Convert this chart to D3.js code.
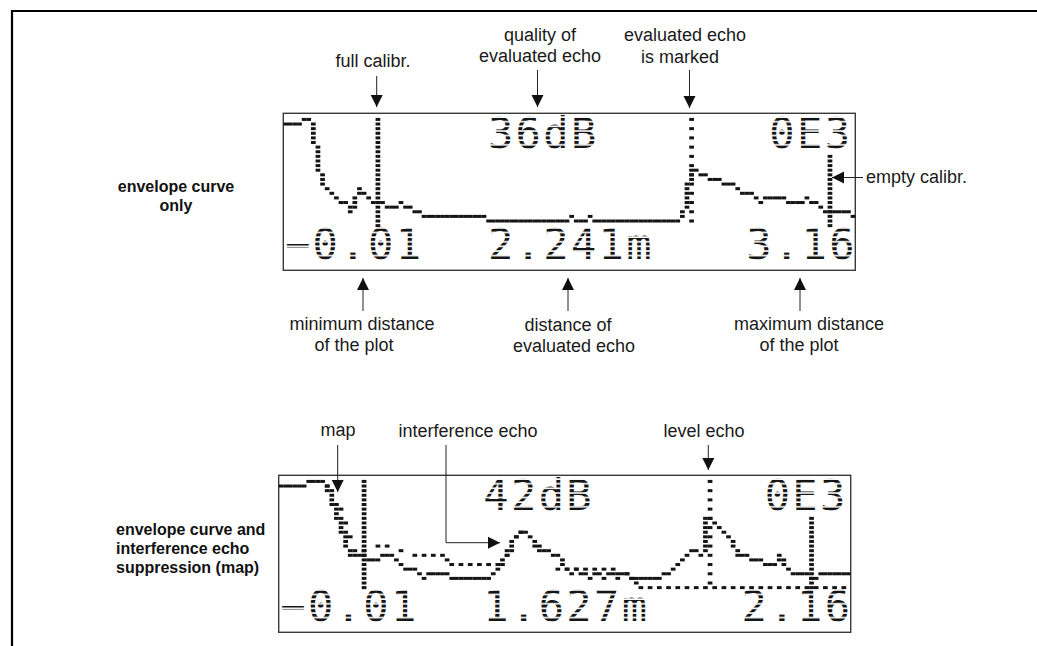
<!DOCTYPE html>
<html>
<head>
<meta charset="utf-8">
<script src="https://cdn.jsdelivr.net/npm/d3@7/dist/d3.min.js"></script>
<style>
  html, body { margin: 0; padding: 0; background: #fff; }
  svg { display: block; }
  .note { font-family: "Liberation Sans", Arial, sans-serif; font-size: 18px; fill: #1a1a1a; }
  .side { font-family: "Liberation Sans", Arial, sans-serif; font-size: 16px; font-weight: bold; fill: #111; }
  .lcd  { font-family: "DejaVu Sans Mono", monospace; font-size: 42px; letter-spacing: 2.4px; }
</style>
</head>
<body>
<div id="chart"></div>
<script>
(function() {

  let width  = 1037,
      height = 646;

  // LCD dot grid
  const COLS = 124, ROWS = 34;

  // envelope curve only: row of the dot in every column (0 = top row)
  const envelopeTop = [
    2, 2, 2, 2, 1, 1, 6, 12, 15, 16, 17, 18, 19, 19, 21, 18, 16, 17, 18, 19,
    19, 19, 20, 20, 20, 19, 20, 20, 21, 21, 22, 22, 22, 22, 22, 22, 22, 22, 22, 22,
    22, 22, 22, 22, 23, 23, 23, 23, 23, 23, 23, 23, 23, 23, 23, 23, 23, 23, 23, 23,
    23, 23, 22, 23, 23, 23, 22, 23, 23, 23, 23, 23, 23, 23, 23, 23, 23, 23, 23, 23,
    23, 23, 23, 23, 23, 23, 21, 15, 12, 12, 13, 13, 14, 14, 14, 15, 15, 15, 16, 17,
    17, 17, 18, 19, 18, 18, 18, 18, 18, 19, 19, 19, 19, 18, 19, 19, 20, 21, 21, 21,
    21, 21, 21, 22
  ];

  // envelope curve and interference echo suppression
  const envelopeBottom = [
    2, 2, 2, 2, 2, 2, 1, 1, 1, 1, 3, 6, 9, 12, 15, 17, 17, 17, 17, 18,
    18, 18, 17, 17, 17, 18, 19, 20, 20, 20, 21, 22, 21, 21, 21, 21, 21, 22, 22, 22,
    22, 22, 22, 22, 22, 22, 21, 20, 18, 16, 14, 13, 12, 12, 13, 14, 15, 16, 16, 17,
    17, 19, 20, 21, 20, 21, 21, 22, 21, 21, 22, 21, 21, 22, 21, 21, 22, 22, 22, 22,
    22, 22, 22, 21, 21, 20, 19, 18, 17, 16, 16, 17, 9, 9, 10, 11, 12, 13, 15, 17,
    17, 17, 18, 18, 18, 19, 19, 19, 17, 19, 20, 21, 21, 21, 21, 22, 22, 21, 21, 21,
    21, 21, 21, 21
  ];

  // map (interference echo suppression), null = no dot
  const mapBottom = [
    null, null, null, null, null, null, null, null, null, null, 2, 4, 6, 9, 12, 14, 16, 16, 16, 16,
    15, 15, 15, 15, 15, 16, 16, 16, 17, 17, 17, 17, 17, 17, 17, 17, 18, 19, 19, 19,
    19, 19, 19, 19, 19, 19, 19, 19, 19, 17, 15, 13, 12, 12, 13, 15, 17, 18, 19, 20,
    20, 20, 20, 20, 20, 20, 20, 20, 20, 20, 20, 20, 20, 21, 21, 21, 22, 23, 24, 24,
    24, 24, 24, 24, 24, 24, 24, 24, 24, 24, 24, 24, 24, 24, 24, 24, 24, 24, 24, 24,
    24, 24, 24, 24, 24, 24, 24, 24, 24, 24, 24, 24, 24, 24, 24, 24, 24, 24, 24, 24,
    24, 24, 24, 24
  ];

  // columns of full calibr., evaluated echo, empty calibr.
  const markerColsTop    = [20, 88, 118];
  const markerColsBottom = [18, 93, 115];

  // display readouts: quality, status, min distance, echo distance, max distance
  const readoutTop    = ["36dB", "0E3", "\u22120.01", "2.241m", "3.16"];
  const readoutBottom = ["42dB", "0E3", "\u22120.01", "1.627m", "2.16"];

  // svg
  let svg = d3.select("#chart")
    .append("svg")
    .attr("width", width)
    .attr("height", height);

  let defs = svg.append("defs");

  // lcd box size
  let boxW = 572, boxH = 157;

  let x = d3.scaleLinear().domain([0, COLS]).range([0, boxW]);
  let y = d3.scaleLinear().domain([0, ROWS]).range([0, boxH]);
  let dotW = x(1) - x(0), dotH = 3;

  // stripes for the dot-matrix text
  defs.append("pattern")
    .attr("id", "rows")
    .attr("patternUnits", "userSpaceOnUse")
    .attr("width", 20)
    .attr("height", y(1))
    .append("rect")
    .attr("width", 20)
    .attr("height", dotH)
    .attr("fill", "#151515");

  // arrow head
  defs.append("marker")
    .attr("id", "head")
    .attr("viewBox", "0 0 12 12")
    .attr("refX", 12)
    .attr("refY", 6)
    .attr("markerUnits", "userSpaceOnUse")
    .attr("markerWidth", 12)
    .attr("markerHeight", 13)
    .attr("orient", "auto")
    .append("path")
    .attr("d", "M0,0 L12,6 L0,12 Z")
    .attr("fill", "#111");

  // outer frame
  svg.append("path")
    .attr("d", "M12,646 L12,11 L1037,11")
    .attr("fill", "none")
    .attr("stroke", "#000")
    .attr("stroke-width", 2.2);

  // dots of a curve, vertical steps go into the new column
  function curveDots(values) {
    let dots = [];
    values.forEach((v, c) => {
      if (v == null) return;
      let p = c > 0 ? values[c - 1] : null;
      let from = v, to = v;
      if (p != null && p < v) from = p + 1;
      if (p != null && p > v) to = p - 1;
      for (let r = from; r <= to; r++) dots.push({c: c, r: r});
    });
    return dots;
  }

  function lineDots(c, r0, r1, step) {
    let dots = [];
    for (let r = r0; r <= r1; r += step) dots.push({c: c, r: r});
    return dots;
  }

  function drawDots(g, dots, cls) {
    g.selectAll("rect." + cls)
      .data(dots)
      .enter().append("rect")
      .attr("class", cls)
      .attr("x", d => x(d.c))
      .attr("y", d => y(d.r))
      .attr("width", dotW + 0.1)
      .attr("height", dotH)
      .attr("fill", "#151515");
  }

  function drawLcd(ox, oy, envelope, map, markers, readout, echoStep) {
    let g = svg.append("g").attr("transform", `translate(${ox},${oy})`);

    g.append("rect")
      .attr("width", boxW)
      .attr("height", boxH)
      .attr("fill", "#fff")
      .attr("stroke", "#3a3a3a")
      .attr("stroke-width", 1.4);

    drawDots(g, curveDots(envelope), "env");
    if (map) {
      // map is drawn with every second dot
      drawDots(g, curveDots(map).filter(d => (d.c + d.r) % 2 === 0), "map");
    }
    drawDots(g, lineDots(markers[0], 1, 24, 1), "full");
    drawDots(g, lineDots(markers[1], 1, 24, echoStep), "echo");
    drawDots(g, lineDots(markers[2], 9, 24, 1), "empty");

    // readout text, 6 dots per character
    let cellCol = [45, 106, 1, 45, 101];
    let cellRow = [1, 1, 25, 25, 25];
    g.selectAll("text.lcd")
      .data(readout)
      .enter().append("text")
      .attr("class", "lcd")
      .attr("x", (d, i) => x(cellCol[i]) - 3)
      .attr("y", (d, i) => y(cellRow[i] + 7) - 1.8)
      .attr("fill", "url(#rows)")
      .text(d => d);
    return g;
  }

  drawLcd(283.3, 113.3, envelopeTop, null, markerColsTop, readoutTop, 2);
  drawLcd(278.7, 475.3, envelopeBottom, mapBottom, markerColsBottom, readoutBottom, 2);

  // arrows
  function arrow(points) {
    svg.append("path")
      .attr("d", d3.line()(points))
      .attr("fill", "none")
      .attr("stroke", "#222")
      .attr("stroke-width", 1)
      .attr("marker-end", "url(#head)");
  }

  function note(tx, ty, lines, anchor, cls) {
    let t = svg.append("text")
      .attr("class", cls || "note")
      .attr("text-anchor", anchor || "middle");
    lines.forEach((s, i) => {
      let px = Array.isArray(tx) ? tx[i] : tx;
      t.append("tspan").attr("x", px).attr("y", ty + i * 21).text(s);
    });
  }

  // top display
  arrow([[376.7, 76], [376.7, 107]]);
  arrow([[537.5, 70], [537.5, 107]]);
  arrow([[689.5, 70], [689.5, 108]]);
  arrow([[863, 177.5], [832, 177.5]]);
  arrow([[363, 311], [363, 278]]);
  arrow([[568, 311], [568, 278]]);
  arrow([[800, 311], [800, 278]]);

  note(373, 67, ["full calibr."]);
  note(540, 41, ["quality of", "evaluated echo"]);
  note(685, 41, ["evaluated echo"]);
  note(680, 63, ["is marked"]);
  note(866, 183, ["empty calibr."], "start");
  note([362, 354], 330, ["minimum distance", "of the plot"]);
  note([568, 574], 331, ["distance of", "evaluated echo"]);
  note([809, 799], 330, ["maximum distance", "of the plot"]);

  note(176, 192, ["envelope curve"], "middle", "side");
  note(176, 211, ["only"], "middle", "side");

  // bottom display
  arrow([[337.7, 445], [337.7, 492]]);
  arrow([[446, 445], [446, 542.7], [500, 542.7]]);
  arrow([[708.3, 445], [708.3, 470]]);

  note(338, 436, ["map"]);
  note(468, 437, ["interference echo"]);
  note(704, 437, ["level echo"]);

  svg.append("text").attr("class", "side").attr("x", 116).attr("y", 535).text("envelope curve and");
  svg.append("text").attr("class", "side").attr("x", 116).attr("y", 554).text("interference echo");
  svg.append("text").attr("class", "side").attr("x", 116).attr("y", 573).text("suppression (map)");

})();
</script>
</body>
</html>
